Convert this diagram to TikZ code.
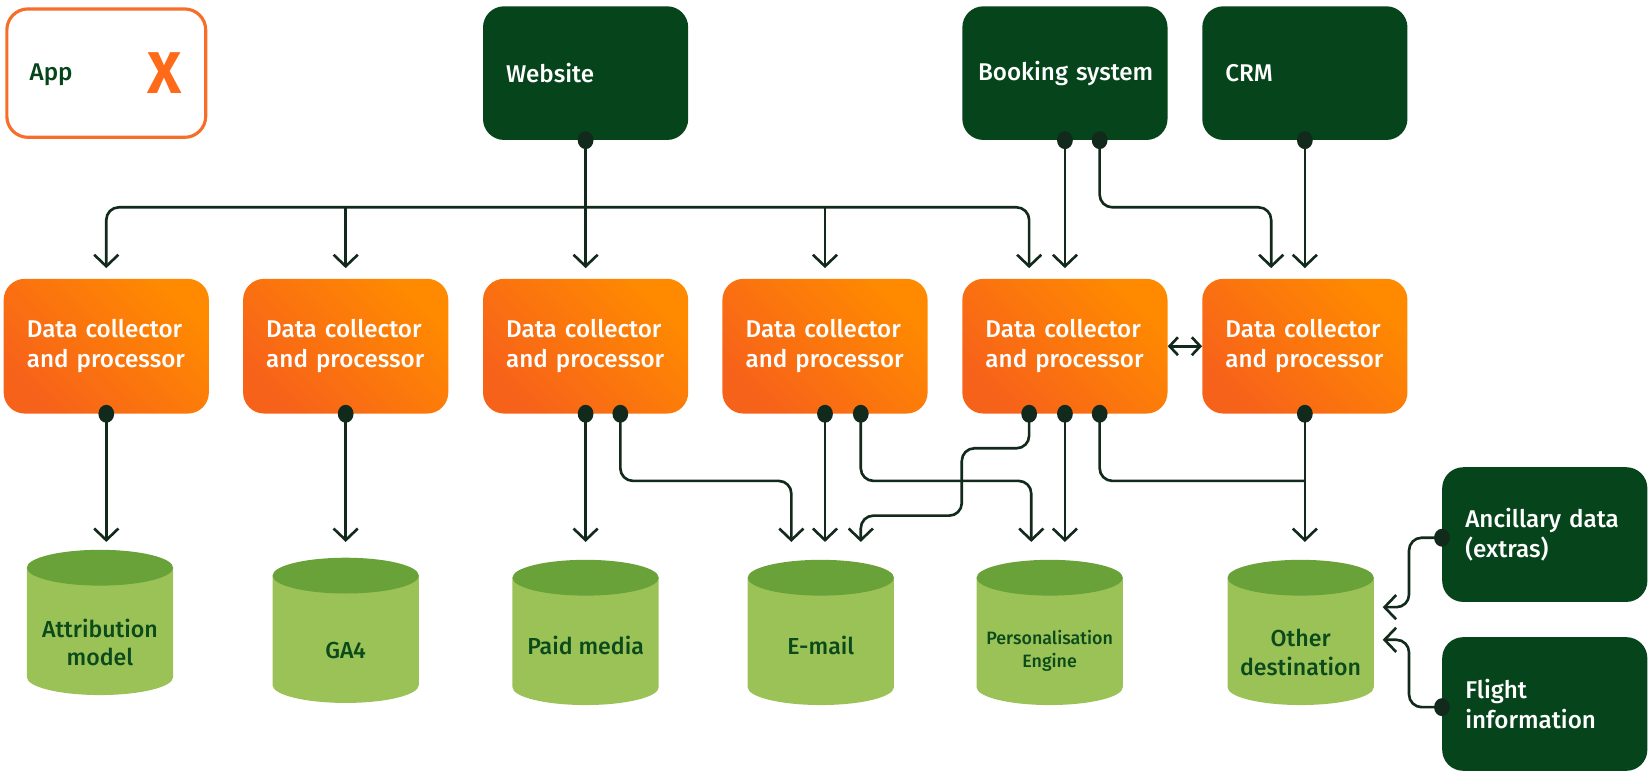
\documentclass[tikz,border=0pt]{standalone}
\usepackage{fontspec}
\setmainfont{Fira Sans Medium}[BoldFont={Fira Sans Bold}]
\usetikzlibrary{arrows.meta,calc}
\definecolor{dkgreen}{HTML}{06441B}
\definecolor{linec}{HTML}{112A1B}
\definecolor{orA}{HTML}{F7621A}
\definecolor{orB}{HTML}{FF8A00}
\definecolor{cylbody}{HTML}{9BC257}
\definecolor{cyltop}{HTML}{68A239}
\definecolor{cyltxt}{HTML}{0B4A1B}
\definecolor{appor}{HTML}{F66F2A}
\definecolor{xorange}{HTML}{FF6A18}
\newcommand\boxfont{\fontsize{23}{28}\selectfont}
\newcommand\cylfont{\fontsize{22}{27}\selectfont}
\newcommand\smallcylfont{\fontsize{17}{22}\selectfont}
\begin{document}
\begin{tikzpicture}[x=1pt,y=1pt,
  srcbox/.style={fill=dkgreen, rounded corners=20pt, text=white, font=\boxfont, align=left, text width=151pt, inner xsep=22pt, inner ysep=0pt, minimum height=127pt},
  procbox/.style={rounded corners=20pt, top color=orB, bottom color=orA, shading angle=-45, text=white, font=\boxfont, align=left, text width=151pt, inner xsep=22pt, inner ysep=0pt, minimum height=128pt},
  appbox/.style={draw=appor, line width=3pt, fill=white, rounded corners=20pt, minimum width=189pt, minimum height=122pt},
  cyl/.style={minimum width=139pt, minimum height=138pt, inner sep=0pt, path picture={
    \path (path picture bounding box.north west) coordinate (cnw) (path picture bounding box.south east) coordinate (cse);
    \fill[cylbody] let \p1=(cnw), \p2=(cse) in (\x1,\y1-17pt) -- (\x1,\y2+17pt) arc[start angle=180,end angle=360,x radius=69.5pt,y radius=17pt] -- (\x2,\y1-17pt) -- cycle;
    \fill[cyltop] let \p1=(cnw), \p2=(cse) in ({(\x1+\x2)/2},\y1-17pt) ellipse[x radius=69.5pt, y radius=17pt];
  }},
  cyltext/.style={text=cyltxt, font=\cylfont, align=center, inner sep=0pt},
  conn/.style={draw=linec, line width=2.5pt, rounded corners=12pt, line join=round, -{Straight Barb[length=11pt,width=23pt]}},
  plainc/.style={draw=linec, line width=2.5pt, rounded corners=12pt, line join=round},
  jdot/.style={fill=linec}
]
\useasboundingbox (0,0) rectangle (1568,-736);

% sources
\node[appbox] (app) at (101,-69.5) {};
\node[text=dkgreen, font=\boxfont, anchor=west, inner sep=0pt] (applbl) at (28,-71) {App};
\node[text=xorange, font=\fontsize{56}{60}\selectfont\bfseries, inner sep=0pt] (appx) at (156,-69) {X};
\node[srcbox] (web) at (556.5,-69.5) {Website};
\node[srcbox, inner xsep=15pt, text width=165pt] (book) at (1012,-69.5) {\mbox{Booking system}};
\node[srcbox] (crm) at (1240,-69.5) {CRM};

% processors
\node[procbox] (d1) at (101,-329) {Data collector\\and processor};
\node[procbox] (d2) at (328.5,-329) {Data collector\\and processor};
\node[procbox] (d3) at (556.5,-329) {Data collector\\and processor};
\node[procbox] (d4) at (784,-329) {Data collector\\and processor};
\node[procbox] (d5) at (1012,-329) {Data collector\\and processor};
\node[procbox] (d6) at (1240,-329) {Data collector\\and processor};

% extra sources
\node[srcbox, minimum height=128pt] (anc) at (1468,-508) {Ancillary data\\(extras)};
\node[srcbox] (flt) at (1468,-669) {Flight\\information};

% destinations
\node[cyl] (cA) at (95,-591.5) {};
\node[cyl] (cG) at (328.5,-599) {};
\node[cyl] (cP) at (556.5,-601) {};
\node[cyl] (cE) at (780,-601) {};
\node[cyl] (cN) at (997.5,-601) {};
\node[cyl] (cO) at (1236,-601) {};
\node[cyltext] (tA) at ($(cA.center)+(0,-19)$) {Attribution\\model};
\node[cyltext] (tG) at ($(cG.center)+(0,-19)$) {GA4};
\node[cyltext] (tP) at ($(cP.center)+(0,-12)$) {Paid media};
\node[cyltext] (tE) at ($(cE.center)+(0,-12)$) {E-mail};
\node[cyltext, font=\smallcylfont] (tN) at ($(cN.center)+(0,-17.5)$) {Personalisation\\Engine};
\node[cyltext] (tO) at ($(cO.center)+(0,-19)$) {Other\\destination};

% helper coordinates
\coordinate (bus) at (0,-197);
\coordinate (mid) at (0,-457);
\coordinate (tipb) at (0,-515);
\coordinate (d5in) at ($(d5.north)+(-34,0)$);
\coordinate (d6in) at ($(d6.north)+(-32,0)$);
\coordinate (bookb) at ($(book.south)+(33,0)$);
\coordinate (d3b) at ($(d3.south)+(33,0)$);
\coordinate (d4b) at ($(d4.south)+(34,0)$);
\coordinate (d5a) at ($(d5.south)+(-34,0)$);
\coordinate (d5c) at ($(d5.south)+(33,0)$);
\coordinate (eA) at (752,-515);
\coordinate (eC) at (818,-515);
\coordinate (pA) at (980,-515);
\coordinate (xr) at (1339,0);
\coordinate (ancd) at ($(anc.west)+(0,-3)$);
\coordinate (fld) at ($(flt.west)+(0,-3)$);
\coordinate (oR1) at (1314,-577);
\coordinate (oR2) at (1314,-608);

% top connectors
\draw[conn, shorten >=10pt] (web.south) -- (d3.north);
\draw[conn, shorten >=10pt] (web.south |- bus) -| (d1.north);
\draw[conn, shorten >=10pt] (d2.north |- bus) -- (d2.north);
\draw[conn, shorten >=10pt] (d4.north |- bus) -- (d4.north);
\draw[conn, shorten >=10pt] (web.south |- bus) -| (d5in);
\draw[conn, shorten >=10pt] (book.south) -- (d5.north);
\draw[conn, shorten >=10pt] (bookb) |- (d6in |- bus) -- (d6in);
\draw[conn, shorten >=10pt] (crm.south) -- (d6.north);

% bottom connectors
\draw[conn] (d1.south) -- (d1.south |- tipb);
\draw[conn] (d2.south) -- (d2.south |- tipb);
\draw[conn] (d3.south) -- (d3.south |- tipb);
\draw[conn] (d4.south) -- (d4.south |- tipb);
\draw[conn] (d5.south) -- (d5.south |- tipb);
\draw[conn] (d6.south) -- (d6.south |- tipb);
\draw[conn] (d3b) |- (eA |- mid) -- (eA);
\draw[conn] (d4b) |- (pA |- mid) -- (pA);
\draw[conn] (d5a) -- (d5a |- 0,-426) -- (914,-426) -- (914,-490) -- (818,-490) -- (eC);
\draw[plainc] (d5c) |- (d6.south |- mid);
\draw[conn, {Straight Barb[length=8pt,width=17pt]}-{Straight Barb[length=8pt,width=17pt]}] (d5.east) -- (d6.west);

% right side
\draw[conn] (ancd) -- (ancd -| xr) -- (xr |- oR1) -- (oR1);
\draw[conn] (fld) -- (fld -| xr) -- (xr |- oR2) -- (oR2);

% dots
\foreach \p in {web.south, book.south, bookb, crm.south, d1.south, d2.south, d3.south, d3b, d4.south, d4b, d5a, d5.south, d5c, d6.south, ancd, fld}
  \fill[jdot] (\p) ellipse[x radius=7.5pt, y radius=8.5pt];
\end{tikzpicture}
\end{document}
